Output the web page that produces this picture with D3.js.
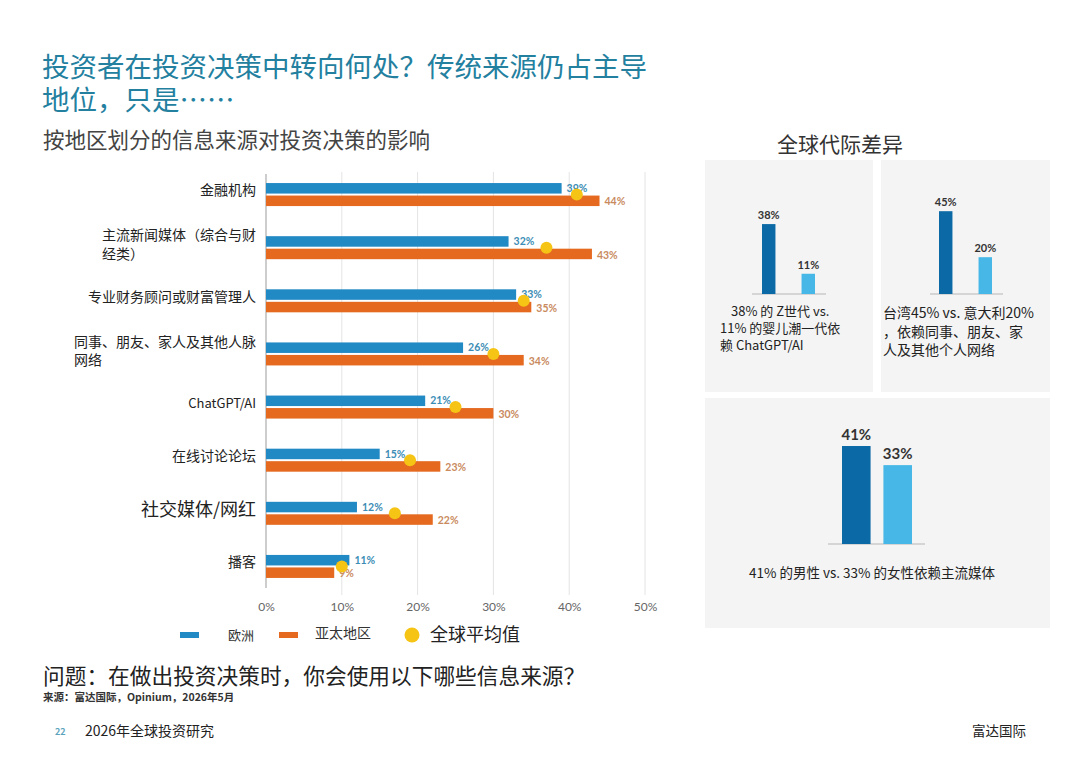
<!DOCTYPE html>
<html><head><meta charset="utf-8">
<script src="https://cdn.jsdelivr.net/npm/d3@7"></script>
<style>
html,body{margin:0;padding:0;background:#fff;}
svg{display:block;font-family:"Noto Sans CJK SC","Noto Sans",sans-serif;}
</style></head>
<body><svg id="c" width="1080" height="764"></svg>
<script>
const titleLines = ["投资者在投资决策中转向何处？传统来源仍占主导","地位，只是……"];
const categories = [["金融机构"],["主流新闻媒体（综合与财","经类）"],["专业财务顾问或财富管理人"],["同事、朋友、家人及其他人脉","网络"],["ChatGPT/AI"],["在线讨论论坛"],["社交媒体/网红"],["播客"]];
const europe = [39,32,33,26,21,15,12,11];
const asia   = [44,43,35,34,30,23,22,9];
const globalAvg = [41,37,34,30,25,19,17,10];
const xTicks = [0,10,20,30,40,50];
const legendLabels = ["欧洲","亚太地区","全球平均值"];

const genLabels = ["Z世代","婴儿潮一代"]; const genValues = [38,11];
const regionLabels = ["台湾","意大利"]; const regionValues = [45,20];
const genderLabels = ["男性","女性"]; const genderValues = [41,33];

const C = {eu:"#2189c4", ap:"#e5691f", avg:"#f5c415", dark:"#0b6aa6", light:"#46b7e6", title:"#23809f"};
const svg = d3.select("#c");

// Titles (one wrapped text element)
const tt = svg.append("text").attr("font-size",27.5).attr("fill",C.title);
titleLines.forEach((l,i)=>tt.append("tspan").attr("x",42).attr("y",77+i*33).text(l));
svg.append("text").attr("x",43).attr("y",148).attr("font-size",21.5).attr("fill","#444").text("按地区划分的信息来源对投资决策的影响");

// Main chart
const x = d3.scaleLinear().domain([0,50]).range([266,645]);
const y = d3.scaleBand().domain(d3.range(categories.length)).range([168,593]).paddingInner(0);
const g = svg.append("g");
g.selectAll(".grid").data(xTicks.slice(1)).join("line")
  .attr("x1",d=>x(d)).attr("x2",d=>x(d)).attr("y1",172).attr("y2",595)
  .attr("stroke","#e4e4e4").attr("stroke-width",1);
const xAxis = d3.axisBottom(x).tickValues(xTicks).tickFormat(d=>d+"%").tickSize(0).tickPadding(0);
const ax = g.append("g").attr("transform","translate(0,602)").call(xAxis);
ax.select(".domain").remove();
ax.selectAll("text").attr("font-size",12).attr("fill","#666").attr("font-family","Lato,'Noto Sans',sans-serif").attr("dy","0.71em");
g.append("line").attr("x1",x(0)).attr("x2",x(0)).attr("y1",174).attr("y2",588).attr("stroke","#bdbdbd").attr("stroke-width",1.5);

const bh = 10.5;
const cy = i => y(i)+y.bandwidth()/2;
g.selectAll(".eu").data(europe).join("rect")
  .attr("x",x(0)).attr("y",(d,i)=>cy(i)-bh-1).attr("width",d=>x(d)-x(0)).attr("height",bh).attr("fill",C.eu);
g.selectAll(".ap").data(asia).join("rect")
  .attr("x",x(0)).attr("y",(d,i)=>cy(i)+1).attr("width",d=>x(d)-x(0)).attr("height",bh).attr("fill",C.ap);
g.selectAll(".eul").data(europe).join("text")
  .attr("x",d=>x(d)+5).attr("y",(d,i)=>cy(i)-bh/2-1).attr("dy","0.35em")
  .attr("font-size",10.5).attr("font-weight","bold").attr("fill","#3b8db5").attr("font-family","Lato,sans-serif").text(d=>d+"%");
g.selectAll(".apl").data(asia).join("text")
  .attr("x",d=>x(d)+5).attr("y",(d,i)=>cy(i)+bh/2+2).attr("dy","0.35em")
  .attr("font-size",10.5).attr("font-weight","bold").attr("fill","#c98a5e").attr("font-family","Lato,sans-serif").text(d=>d+"%");
g.selectAll(".avg").data(globalAvg).join("circle")
  .attr("cx",d=>x(d)).attr("cy",(d,i)=>cy(i)).attr("r",6).attr("fill",C.avg);

// Category labels
categories.forEach((lines,i)=>{
  const big = i===6, latin = i===4;
  const fs = big?18:(latin?13:14);
  const lh = 18.5;
  const y0 = cy(i) - (lines.length-1)*lh/2 + (lines.length>1?-3:-4);
  const t = g.append("text").attr("font-size",fs).attr("fill","#222");
  lines.forEach((ln,j)=>t.append("tspan").attr("y",y0+j*lh).attr("dy","0.35em").text(ln));
  const first = t.select("tspan").node();
  const w = first.getComputedTextLength();
  const x0 = 256 - w;
  t.selectAll("tspan").attr("x",x0);
});

// Legend
svg.append("rect").attr("x",180).attr("y",632).attr("width",19).attr("height",6).attr("fill",C.eu);
svg.append("text").attr("x",228).attr("y",635).attr("dy","0.35em").attr("font-size",13).attr("fill","#333").text(legendLabels[0]);
svg.append("rect").attr("x",279).attr("y",632).attr("width",19).attr("height",6).attr("fill",C.ap);
svg.append("text").attr("x",315).attr("y",633).attr("dy","0.35em").attr("font-size",14).attr("fill","#333").text(legendLabels[1]);
svg.append("circle").attr("cx",412).attr("cy",635).attr("r",7.5).attr("fill",C.avg);
svg.append("text").attr("x",430).attr("y",635).attr("dy","0.35em").attr("font-size",18).attr("fill","#222").text(legendLabels[2]);

// Question & source
svg.append("text").attr("x",43).attr("y",684).attr("font-size",21.7).attr("fill","#222").text("问题：在做出投资决策时，你会使用以下哪些信息来源？");
svg.append("text").attr("x",43).attr("y",701).attr("font-size",10.5).attr("font-weight","bold").attr("fill","#333").text("来源：富达国际，Opinium，2026年5月");
// Footer
svg.append("text").attr("x",55).attr("y",735).attr("font-size",9).attr("font-weight","bold").attr("fill","#5aa3bd").text("22");
svg.append("text").attr("x",85).attr("y",736).attr("font-size",14).attr("fill","#222").text("2026年全球投资研究");
svg.append("text").attr("x",972).attr("y",736).attr("font-size",13.5).attr("fill","#222").text("富达国际");

// Right panels
svg.append("text").attr("x",840).attr("y",152).attr("text-anchor","middle").attr("font-size",21).attr("fill","#333").text("全球代际差异");
svg.append("rect").attr("x",705).attr("y",160).attr("width",168).attr("height",232).attr("fill","#f4f4f4");
svg.append("rect").attr("x",881).attr("y",160).attr("width",169).attr("height",232).attr("fill","#f4f4f4");
svg.append("rect").attr("x",705).attr("y",398).attr("width",345).attr("height",230).attr("fill","#f4f4f4");

function mini(labels, values, opts){
  const ys = d3.scaleLinear().domain([0,100]).range([opts.base, opts.base - opts.pxPerPct*100]);
  const xs = d3.scaleBand().domain(labels).range([opts.x0, opts.x1]).paddingInner(opts.pad).paddingOuter(0);
  svg.append("line").attr("x1",opts.lx0).attr("x2",opts.lx1).attr("y1",opts.base).attr("y2",opts.base).attr("stroke","#b5b5b5").attr("stroke-width",1.2);
  svg.selectAll(null).data(values).join("rect")
    .attr("x",(d,i)=>xs(labels[i])).attr("y",d=>ys(d)).attr("width",xs.bandwidth()).attr("height",d=>opts.base-ys(d))
    .attr("fill",(d,i)=>i===0?C.dark:C.light);
  svg.selectAll(null).data(values).join("text")
    .attr("x",(d,i)=>xs(labels[i])+xs.bandwidth()/2).attr("y",d=>ys(d)-opts.lblGap)
    .attr("text-anchor","middle").attr("font-size",opts.fs).attr("font-weight","bold").attr("fill","#333")
    .attr("font-family","Lato,'Noto Sans',sans-serif").text(d=>d+"%");
}
mini(genLabels, genValues, {base:294, pxPerPct:1.84, x0:762, x1:815, pad:0.66, lx0:752, lx1:826, lblGap:5, fs:11});
mini(regionLabels, regionValues, {base:294, pxPerPct:1.84, x0:939, x1:992, pad:0.66, lx0:930, lx1:1003, lblGap:5, fs:11});
mini(genderLabels, genderValues, {base:544, pxPerPct:2.39, x0:842, x1:912, pad:0.31, lx0:828, lx1:925, lblGap:6, fs:15});

const p1 = [[731,"38% 的 Z世代 vs."],[720,"11% 的婴儿潮一代依"],[720,"赖 ChatGPT/AI"]];
p1.forEach((d,i)=>svg.append("text").attr("x",d[0]).attr("y",316+i*17).attr("font-size",13).attr("fill","#222").text(d[1]));
const p2 = ["台湾45% vs. 意大利20%","，依赖同事、朋友、家","人及其他个人网络"];
p2.forEach((d,i)=>svg.append("text").attr("x",883).attr("y",318+i*18.5).attr("font-size",14).attr("fill","#222").text(d));
svg.append("text").attr("x",872).attr("y",578).attr("text-anchor","middle").attr("font-size",13.5).attr("fill","#222").text("41% 的男性 vs. 33% 的女性依赖主流媒体");
</script></body></html>
